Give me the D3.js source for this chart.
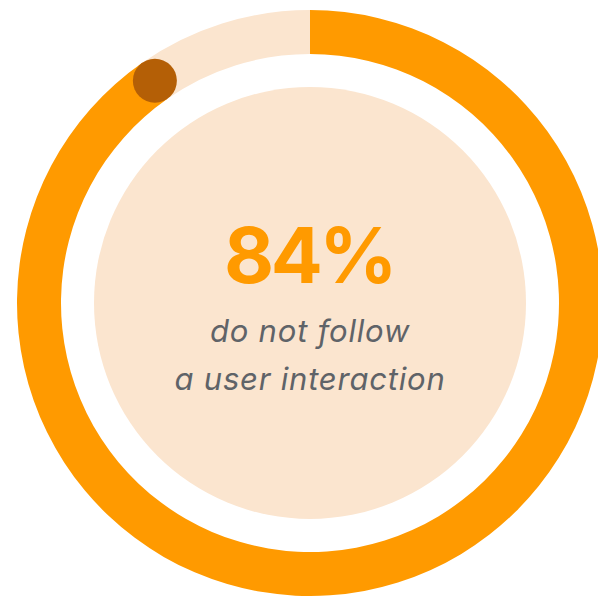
<!DOCTYPE html>
<html>
<head>
<meta charset="utf-8">
<script src="https://cdn.jsdelivr.net/npm/d3@7"></script>
<style>
  html, body { margin: 0; padding: 0; background: #fff; }
</style>
</head>
<body>
<div id="gauge"></div>
<script>
// label shown in the middle, and share of the ring that is filled
var labelValue = [84];
var ringShare = [90.3, 9.7];
var ringColors = ['#ff9a00', '#fbe5cf'];
var captionLines = ['do not follow', 'a user interaction'];

var width = 598, height = 596;
var cx = 310, cy = 303;
var outerR = 293, innerR = 249, coreR = 216, dotR = 22;

var svg = d3.select('#gauge').append('svg')
    .attr('width', width)
    .attr('height', height);

var g = svg.append('g')
    .attr('transform', 'translate(' + cx + ',' + cy + ')');

var angle = d3.scaleLinear().domain([0, 100]).range([0, 2 * Math.PI]);

var pie = d3.pie().sort(null).value(function(d){ return d; })
    .startAngle(0).endAngle(2 * Math.PI);

var arc = d3.arc().innerRadius(innerR).outerRadius(outerR);

g.selectAll('path.ring')
    .data(pie(ringShare))
    .enter()
        .append('path')
        .attr('class', 'ring')
        .attr('d', arc)
        .style('fill', function(d, i){ return ringColors[i]; });

// marker at the end of the filled part
var a = angle(ringShare[0]);
var midR = (innerR + outerR) / 2;
g.append('circle')
    .attr('cx', midR * Math.sin(a))
    .attr('cy', -midR * Math.cos(a))
    .attr('r', dotR)
    .style('fill', '#b45f06');

// inner disc
g.append('circle')
    .attr('r', coreR)
    .style('fill', '#fbe5cf');

g.append('text')
    .attr('text-anchor', 'middle')
    .attr('x', -1)
    .attr('y', -20)
    .style('font-family', 'Inter, sans-serif')
    .style('font-weight', 700)
    .style('font-size', '77px')
    .style('letter-spacing', '-3.5px')
    .style('fill', '#ff9a00')
    .text(labelValue[0] + '%');

g.selectAll('text.caption')
    .data(captionLines)
    .enter()
        .append('text')
        .attr('class', 'caption')
        .attr('text-anchor', 'middle')
        .attr('y', function(d, i){ return 39 + i * 48; })
        .style('font-family', 'Inter, sans-serif')
        .style('font-style', 'italic')
        .style('font-size', '31px')
        .style('letter-spacing', '0.8px')
        .style('fill', '#5f6368')
        .text(function(d){ return d; });
</script>
</body>
</html>
